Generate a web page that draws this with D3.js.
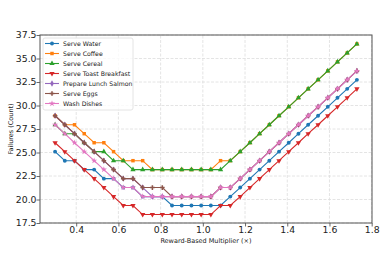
<!DOCTYPE html>
<html>
<head>
<meta charset="utf-8">
<script src="https://cdn.jsdelivr.net/npm/d3@7"></script>
<style>
  body { margin: 0; background: #fff; }
  text { font-family: "DejaVu Sans", sans-serif; }
</style>
</head>
<body>
<script>
var width = 389,
    height = 275;

var margin = {top: 35, right: 17, bottom: 52, left: 40};

// multiplier values on the x axis
var multipliers = [0.300, 0.346, 0.392, 0.438, 0.485, 0.531, 0.577, 0.623,
                   0.669, 0.715, 0.761, 0.808, 0.854, 0.900, 0.946, 0.992,
                   1.038, 1.084, 1.130, 1.177, 1.223, 1.269, 1.315, 1.361,
                   1.407, 1.453, 1.499, 1.546, 1.592, 1.638, 1.684, 1.730];

var serveWater = [25.09, 24.13, 24.13, 23.18, 23.18, 22.22, 22.22, 21.27,
                  21.27, 20.31, 20.31, 20.31, 19.36, 19.36, 19.36, 19.36,
                  19.36, 19.36, 20.31, 21.27, 22.22, 23.18, 24.13, 25.09,
                  26.04, 27.00, 27.95, 28.91, 29.86, 30.82, 31.77, 32.73];
var serveCoffee = [28.91, 27.95, 27.95, 27.00, 26.04, 26.04, 25.09, 24.13,
                   24.13, 24.13, 23.18, 23.18, 23.18, 23.18, 23.18, 23.18,
                   23.18, 24.13, 24.13, 25.09, 26.04, 27.00, 27.95, 28.91,
                   29.86, 30.82, 31.77, 32.73, 33.68, 34.64, 35.59, 36.55];
var serveCereal = [27.95, 27.00, 27.00, 26.04, 25.09, 25.09, 24.13, 24.13,
                   23.18, 23.18, 23.18, 23.18, 23.18, 23.18, 23.18, 23.18,
                   23.18, 23.18, 24.13, 25.09, 26.04, 27.00, 27.95, 28.91,
                   29.86, 30.82, 31.77, 32.73, 33.68, 34.64, 35.59, 36.55];
var serveToast = [26.04, 25.09, 24.13, 23.18, 22.22, 21.27, 20.31, 19.36,
                  19.36, 18.40, 18.40, 18.40, 18.40, 18.40, 18.40, 18.40,
                  18.40, 19.36, 19.36, 20.31, 21.27, 22.22, 23.18, 24.13,
                  25.09, 26.04, 27.00, 27.95, 28.91, 29.86, 30.82, 31.77];
var lunchSalmon = [28.91, 27.95, 27.00, 26.04, 25.09, 24.13, 23.18, 22.22,
                   22.22, 21.27, 20.31, 20.31, 20.31, 20.31, 20.31, 20.31,
                   20.31, 21.27, 21.27, 22.22, 23.18, 24.13, 25.09, 26.04,
                   27.00, 27.95, 28.91, 29.86, 30.82, 31.77, 32.73, 33.68];
var serveEggs = [28.91, 27.95, 27.00, 26.04, 25.09, 24.13, 23.18, 22.22,
                 22.22, 21.27, 21.27, 21.27, 20.31, 20.31, 20.31, 20.31,
                 20.31, 21.27, 21.27, 22.22, 23.18, 24.13, 25.09, 26.04,
                 27.00, 27.95, 28.91, 29.86, 30.82, 31.77, 32.73, 33.68];
var washDishes = [27.95, 27.00, 26.04, 25.09, 24.13, 23.18, 22.22, 21.27,
                  21.27, 20.31, 20.31, 20.31, 20.31, 20.31, 20.31, 20.31,
                  20.31, 21.27, 21.27, 22.22, 23.18, 24.13, 25.09, 26.04,
                  27.00, 27.95, 28.91, 29.86, 30.82, 31.77, 32.73, 33.68];

var seriesNames = ["Serve Water", "Serve Coffee", "Serve Cereal", "Serve Toast Breakfast",
                   "Prepare Lunch Salmon", "Serve Eggs", "Wash Dishes"];
var seriesValues = [serveWater, serveCoffee, serveCereal, serveToast,
                    lunchSalmon, serveEggs, washDishes];
var colors = ["#1f77b4", "#ff7f0e", "#2ca02c", "#d62728", "#9467bd", "#8c564b", "#e377c2"];
var symbols = [d3.symbolCircle, d3.symbolSquare, d3.symbolTriangle, d3.symbolTriangle,
               d3.symbolDiamond, d3.symbolCross, d3.symbolStar];
var symbolRot = [0, 0, 0, 180, 0, 0, 0];

var xTicks = [0.4, 0.6, 0.8, 1.0, 1.2, 1.4, 1.6, 1.8];
var yTicks = [17.5, 20.0, 22.5, 25.0, 27.5, 30.0, 32.5, 35.0, 37.5];

var svg = d3.select("body").append("svg")
    .attr("width", width)
    .attr("height", height)

var x = d3.scaleLinear()
    .domain([0.2285, 1.8015])
    .range([margin.left, width - margin.right]);
var y = d3.scaleLinear()
    .domain([17.5, 37.5])
    .range([height - margin.bottom, margin.top]);

/* grid lines */
svg.append("g")
    .selectAll("line")
    .data(xTicks)
    .enter().append("line")
    .attr("x1", function (d) { return x(d) })
    .attr("x2", function (d) { return x(d) })
    .attr("y1", y(17.5))
    .attr("y2", y(37.5))
    .attr("stroke", "#ddd")
    .attr("stroke-width", 0.8)
    .attr("stroke-dasharray", "3,1.5")

svg.append("g")
    .selectAll("line")
    .data(yTicks)
    .enter().append("line")
    .attr("x1", x.range()[0])
    .attr("x2", x.range()[1])
    .attr("y1", function (d) { return y(d) })
    .attr("y2", function (d) { return y(d) })
    .attr("stroke", "#ddd")
    .attr("stroke-width", 0.8)
    .attr("stroke-dasharray", "3,1.5")

/* axes */
var xAxis = svg.append("g")
    .attr("transform", "translate(0," + y(17.5) + ")")
    .call(d3.axisBottom(x).tickValues(xTicks).tickFormat(d3.format(".1f")).tickSize(3.5).tickSizeOuter(0))
var yAxis = svg.append("g")
    .attr("transform", "translate(" + x.range()[0] + ",0)")
    .call(d3.axisLeft(y).tickValues(yTicks).tickFormat(d3.format(".1f")).tickSize(3.5).tickSizeOuter(0))

xAxis.selectAll("text").attr("font-size", 9.3).attr("fill", "#222").attr("y", 3.5).attr("dy", "0.71em")
yAxis.selectAll("text").attr("font-size", 9.3).attr("fill", "#222").attr("x", -3.5)
svg.selectAll(".domain").remove()
svg.selectAll(".tick line").attr("stroke", "#444").attr("stroke-width", 0.8)

/* lines and markers */
var line = d3.line()
    .x(function (d, i) { return x(multipliers[i]) })
    .y(function (d) { return y(d) })

var series = svg.selectAll(".series")
    .data(seriesValues)
    .enter().append("g")
    .attr("class", "series")

series.append("path")
    .attr("d", function (d) { return line(d) })
    .attr("fill", "none")
    .attr("stroke", function (d, i) { return colors[i] })
    .attr("stroke-width", 1.1)

series.each(function (vals, s) {
    d3.select(this).selectAll("path.pt")
        .data(vals)
        .enter().append("path")
        .attr("class", "pt")
        .attr("d", d3.symbol().type(symbols[s]).size(12))
        .attr("transform", function (d, i) {
            return "translate(" + x(multipliers[i]) + "," + y(d) + ") rotate(" + symbolRot[s] + ")"
        })
        .attr("fill", colors[s])
})

/* frame */
svg.append("rect")
    .attr("x", x.range()[0])
    .attr("y", y.range()[1])
    .attr("width", x.range()[1] - x.range()[0])
    .attr("height", y.range()[0] - y.range()[1])
    .attr("fill", "none")
    .attr("stroke", "#555")
    .attr("stroke-width", 1)

/* axis titles */
svg.append("text")
    .attr("x", (x.range()[0] + x.range()[1]) / 2)
    .attr("y", 243)
    .attr("text-anchor", "middle")
    .attr("font-size", 6.5)
    .attr("fill", "#222")
    .text("Reward-Based Multiplier (×)")

svg.append("text")
    .attr("transform", "translate(13," + (y(27.5)) + ") rotate(-90)")
    .attr("text-anchor", "middle")
    .attr("font-size", 6.5)
    .attr("fill", "#222")
    .text("Failures (Count)")

/* legend */
var legend = svg.append("g")
    .attr("transform", "translate(43,38)")

legend.append("rect")
    .attr("width", 90)
    .attr("height", 72)
    .attr("rx", 2)
    .attr("fill", "#fff")
    .attr("fill-opacity", 0.8)
    .attr("stroke", "#ddd")
    .attr("stroke-width", 0.8)

var item = legend.selectAll(".item")
    .data(seriesNames)
    .enter().append("g")
    .attr("class", "item")
    .attr("transform", function (d, i) { return "translate(0," + (5.5 + i * 10) + ")" })

item.append("line")
    .attr("x1", 2)
    .attr("x2", 16)
    .attr("stroke", function (d, i) { return colors[i] })
    .attr("stroke-width", 1.1)

item.append("path")
    .attr("d", function (d, i) { return d3.symbol().type(symbols[i]).size(12)() })
    .attr("transform", function (d, i) { return "translate(9,0) rotate(" + symbolRot[i] + ")" })
    .attr("fill", function (d, i) { return colors[i] })

item.append("text")
    .attr("x", 20)
    .attr("dy", "0.35em")
    .attr("font-size", 6.2)
    .attr("fill", "#222")
    .text(function (d) { return d })
</script>
</body>
</html>
